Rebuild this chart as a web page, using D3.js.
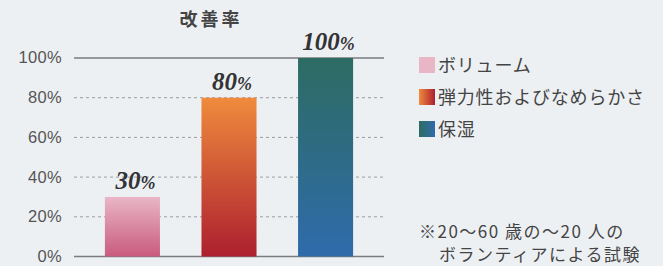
<!DOCTYPE html>
<html>
<head>
<meta charset="utf-8">
<script src="https://cdn.jsdelivr.net/npm/d3@7"></script>
<style>
  html, body { margin: 0; padding: 0; background: #edf0f3; }
  svg { display: block; }
</style>
</head>
<body>
<div id="chart"></div>
<script>
const categories = ["ボリューム", "弾力性およびなめらかさ", "保湿"];
const values = [30, 80, 100];
const yTicks = [0, 20, 40, 60, 80, 100];
const gradients = [
  ["#e9b6c6", "#c95a7e"],
  ["#ef8b3d", "#ad1f2f"],
  ["#2d6c62", "#2f6bab"],
];
const noteLines = ["※20〜60 歳の〜20 人の", "ボランティアによる試験"];

const width = 663, height = 266;
const svg = d3.select("#chart").append("svg").attr("width", width).attr("height", height);
const defs = svg.append("defs");

// vertical gradients for bars, horizontal for legend swatches
gradients.forEach(([top, bottom], i) => {
  const v = defs.append("linearGradient").attr("id", `bar${i}`)
    .attr("x1", 0).attr("y1", 0).attr("x2", 0).attr("y2", 1);
  v.append("stop").attr("offset", "0%").attr("stop-color", top);
  v.append("stop").attr("offset", "100%").attr("stop-color", bottom);
  const h = defs.append("linearGradient").attr("id", `sw${i}`)
    .attr("x1", 0).attr("y1", 0).attr("x2", 1).attr("y2", 0);
  h.append("stop").attr("offset", "0%").attr("stop-color", top);
  h.append("stop").attr("offset", "100%").attr("stop-color", bottom);
});

const x = d3.scaleBand().domain(categories).range([74, 384]).paddingInner(0.43).paddingOuter(0.32);
const y = d3.scaleLinear().domain([0, 100]).range([256.5, 58]);

// Title
svg.append("text").attr("x", 211).attr("y", 26).attr("text-anchor", "middle")
  .attr("font-family", "'Noto Sans CJK JP', sans-serif").attr("font-weight", "700")
  .attr("font-size", "18px").attr("letter-spacing", "3px").attr("fill", "#444").text("改善率");

// Grid lines
svg.append("g").selectAll("line").data(yTicks).join("line")
  .attr("x1", 74).attr("x2", 384)
  .attr("y1", d => y(d)).attr("y2", d => y(d))
  .attr("stroke", d => (d === 0 || d === 100) ? "#7a7c80" : "#9a9ca0")
  .attr("stroke-width", d => (d === 0 || d === 100) ? 1.3 : 1)
  .attr("stroke-dasharray", d => (d === 0 || d === 100) ? null : "3,3");

// Y axis labels
const yAxis = svg.append("g").attr("transform", "translate(62,0)")
  .call(d3.axisLeft(y).tickValues(yTicks).tickSize(0).tickPadding(0).tickFormat(d => d + "%"));
yAxis.select(".domain").remove();
yAxis.selectAll("text").attr("font-family", "'Liberation Sans', Arial, sans-serif")
  .attr("font-size", "16.5px").attr("dy", "0.3em").attr("letter-spacing", "0.3px").attr("fill", "#555");

// Bars
svg.append("g").selectAll("rect").data(values).join("rect")
  .attr("x", (d, i) => x(categories[i]))
  .attr("y", d => y(d))
  .attr("width", x.bandwidth())
  .attr("height", d => y(0) - y(d))
  .attr("fill", (d, i) => `url(#bar${i})`);

// Value labels
const labels = svg.append("g").selectAll("text").data(values).join("text")
  .attr("x", (d, i) => x(categories[i]) + x.bandwidth() / 2 + 3)
  .attr("y", d => y(d) - 8)
  .attr("text-anchor", "middle")
  .attr("font-family", "'Liberation Serif', 'Times New Roman', serif")
  .attr("font-style", "italic").attr("font-weight", "700")
  .attr("font-size", "25px").attr("fill", "#333");
labels.append("tspan").text(d => d);
labels.append("tspan").attr("font-size", "18px").text("%");

// Legend
const legend = svg.append("g").selectAll("g").data(categories).join("g")
  .attr("transform", (d, i) => `translate(419,${57 + i * 32})`);
legend.append("rect").attr("width", 16).attr("height", 16)
  .attr("fill", (d, i) => i === 0 ? gradients[0][0] : `url(#sw${i})`);
legend.append("text").attr("x", 19).attr("y", 15)
  .attr("font-family", "'Noto Sans CJK JP', sans-serif").attr("font-size", "18px")
  .attr("letter-spacing", "0.8px").attr("fill", "#444").text(d => d);

// Note
svg.append("g").selectAll("text").data(noteLines).join("text")
  .attr("x", (d, i) => i === 0 ? 419 : 439)
  .attr("y", (d, i) => 238 + i * 23)
  .attr("font-family", "'Noto Sans CJK JP', sans-serif").attr("font-size", "17px")
  .attr("letter-spacing", "1.5px").attr("fill", "#444").text(d => d);
</script>
</body>
</html>
